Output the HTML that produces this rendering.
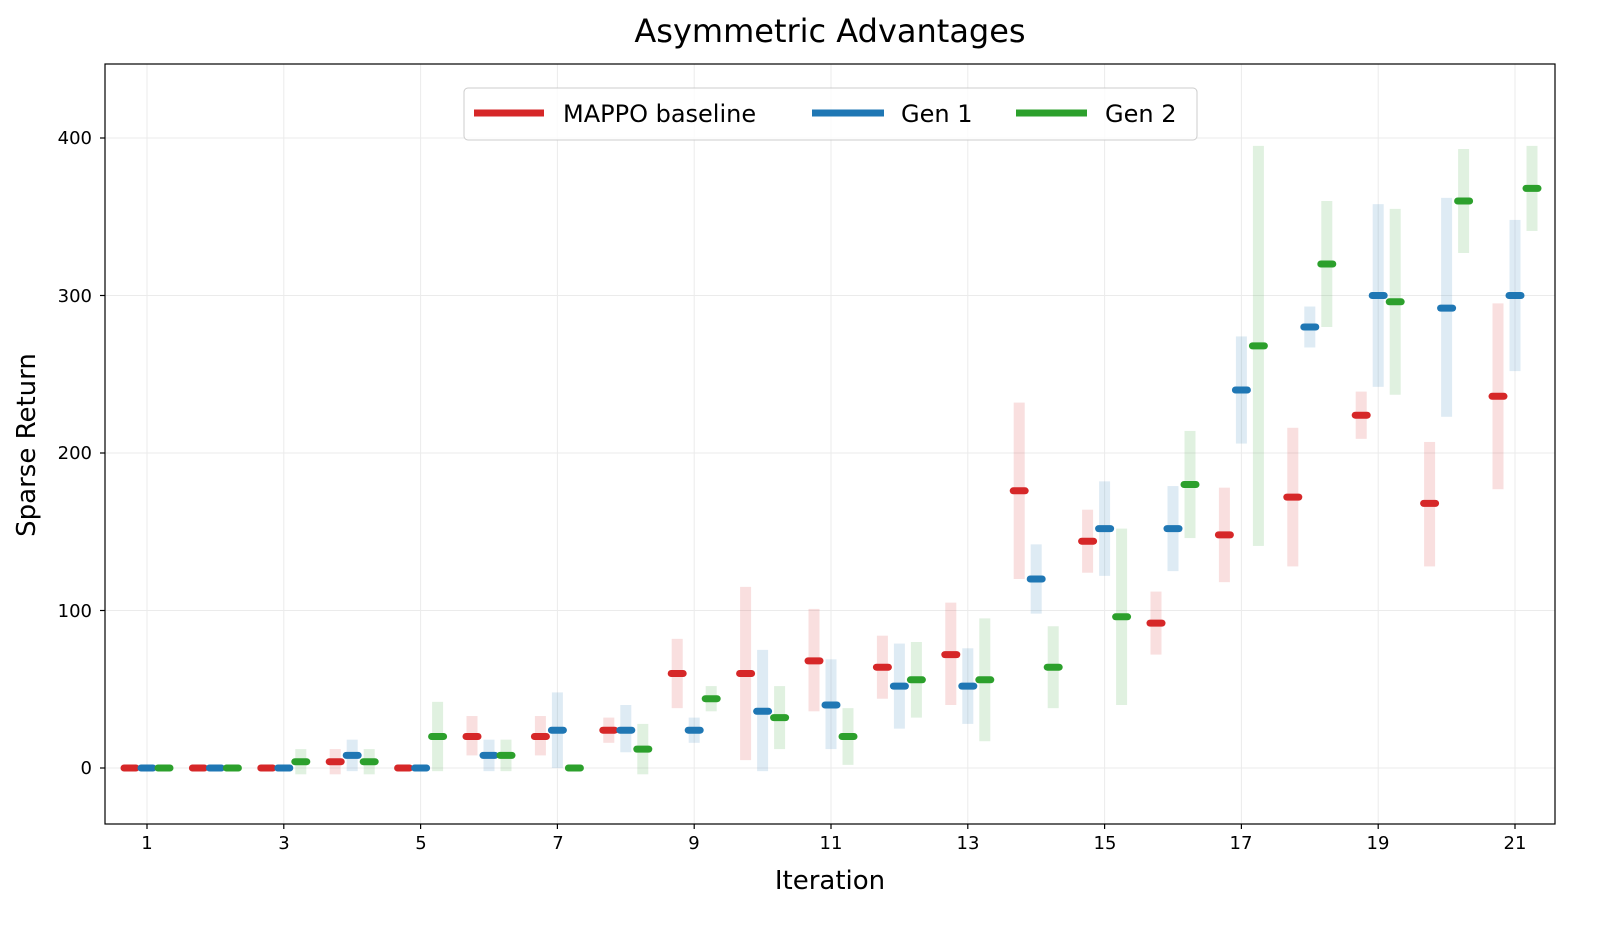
<!DOCTYPE html>
<html><head><meta charset="utf-8"><style>
body{margin:0;background:#fff}
svg text{font-family:"DejaVu Sans","Liberation Sans",sans-serif;fill:#000}
</style></head><body>
<svg id="s" width="1600" height="927" xmlns="http://www.w3.org/2000/svg">
<rect width="1600" height="927" fill="#fff"/>
<g id="grid" stroke="#ebebeb" stroke-width="1"></g>
<g id="data"></g>
<rect x="105" y="64" width="1450" height="760" fill="none" stroke="#000" stroke-width="1.2"/>
<g id="ticks" stroke="#000" stroke-width="1.2"></g>
<g font-size="18" text-anchor="end">
<text x="92" y="774">0</text><text x="92" y="617">100</text><text x="92" y="459">200</text><text x="92" y="302">300</text><text x="92" y="144">400</text>
</g>
<g font-size="18" text-anchor="middle">
<text x="147" y="849">1</text><text x="284" y="849">3</text><text x="421" y="849">5</text><text x="558" y="849">7</text><text x="694" y="849">9</text><text x="831" y="849">11</text><text x="968" y="849">13</text><text x="1105" y="849">15</text><text x="1241" y="849">17</text><text x="1378" y="849">19</text><text x="1515" y="849">21</text>
</g>
<text x="830" y="42" font-size="32" text-anchor="middle">Asymmetric Advantages</text>
<text x="830" y="889" font-size="26" text-anchor="middle">Iteration</text>
<text transform="translate(35,445) rotate(-90)" font-size="26" text-anchor="middle">Sparse Return</text>
<rect x="464" y="88" width="733" height="52" rx="4" fill="#fff" fill-opacity="0.8" stroke="#ccc"/>
<line x1="474" y1="113" x2="544" y2="113" stroke="#d62728" stroke-width="7"/>
<text x="563" y="122" font-size="24">MAPPO baseline</text>
<line x1="812" y1="113" x2="884" y2="113" stroke="#1f77b4" stroke-width="7"/>
<text x="901" y="122" font-size="24">Gen 1</text>
<line x1="1016" y1="113" x2="1087" y2="113" stroke="#2ca02c" stroke-width="7"/>
<text x="1105" y="122" font-size="24">Gen 2</text>
</svg>
<script>
var NS="http://www.w3.org/2000/svg";
function X(i){return 147+68.4*(i-1);} function Y(v){return 768-1.575*v;}
function el(p,t,a){var e=document.createElementNS(NS,t);for(var k in a)e.setAttribute(k,a[k]);document.getElementById(p).appendChild(e);}
[0,100,200,300,400].forEach(function(v){el("grid","line",{x1:105,x2:1555,y1:Y(v),y2:Y(v)});el("ticks","line",{x1:100,x2:105,y1:Y(v),y2:Y(v)});});
for(var i=1;i<=21;i+=2){el("grid","line",{x1:X(i),x2:X(i),y1:64,y2:824});el("ticks","line",{x1:X(i),x2:X(i),y1:824,y2:829});}
var R=[[0],[0],[0],[4,-4,12],[0],[20,8,33],[20,8,33],[24,16,32],[60,38,82],[60,5,115],[68,36,101],[64,44,84],[72,40,105],[176,120,232],[144,124,164],[92,72,112],[148,118,178],[172,128,216],[224,209,239],[168,128,207],[236,177,295]];
var B=[[0],[0],[0],[8,-2,18],[0],[8,-2,18],[24,0,48],[24,10,40],[24,16,32],[36,-2,75],[40,12,69],[52,25,79],[52,28,76],[120,98,142],[152,122,182],[152,125,179],[240,206,274],[280,267,293],[300,242,358],[292,223,362],[300,252,348]];
var G=[[0],[0],[4,-4,12],[4,-4,12],[20,-2,42],[8,-2,18],[0],[12,-4,28],[44,36,52],[32,12,52],[20,2,38],[56,32,80],[56,17,95],[64,38,90],[96,40,152],[180,146,214],[268,141,395],[320,280,360],[296,237,355],[360,327,393],[368,341,395]];
var S=[[R,"#d62728",-17],[B,"#1f77b4",0],[G,"#2ca02c",17]];
S.forEach(function(s){
 s[0].forEach(function(d,k){var x=X(k+1)+s[2];
  if(d.length>1)el("data","rect",{x:x-5.5,y:Y(d[2]),width:11,height:Y(d[1])-Y(d[2]),fill:s[1],"fill-opacity":0.15});
 });});
S.forEach(function(s){
 s[0].forEach(function(d,k){var x=X(k+1)+s[2];
  el("data","line",{x1:x-6,x2:x+6,y1:Y(d[0]),y2:Y(d[0]),stroke:s[1],"stroke-width":7,"stroke-linecap":"round"});
 });});
</script>
</body></html>
